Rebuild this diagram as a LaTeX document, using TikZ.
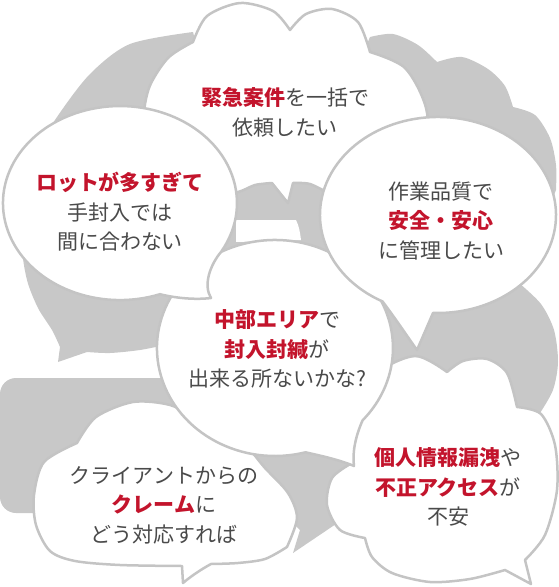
\documentclass[tikz,border=0pt]{standalone}
\usepackage{fontspec}
\newfontfamily\jp{Noto Sans CJK JP}
\definecolor{bggrey}{HTML}{C8C8C8}
\definecolor{bubline}{HTML}{C4C4C4}
\definecolor{textgrey}{HTML}{4A4A4A}
\definecolor{hotred}{HTML}{C3142C}
\newcommand\redb[1]{{\bfseries\color{hotred}#1}}
\tikzset{
  wb/.style={fill=white, draw=bubline, line width=2.5pt, line join=round},
  gb/.style={fill=bggrey},
  txt/.style={font=\jp\fontsize{21}{29.5}\selectfont, text=textgrey, align=center, inner sep=0pt}
}
\begin{document}
\begin{tikzpicture}[x=1pt,y=-1pt]
\useasboundingbox (0,0) rectangle (559,587);
% grey background
\path[gb] (58,362) -- (60,347)
 -- plot[smooth] coordinates {(60,347) (52,330) (38,308) (27,280) (22,245) (26,195) (38,150) (57,117) (90,74) (130,44) (193,32)}
 -- (200,60) -- (360,60) -- (370,37)
 -- plot[smooth] coordinates {(370,37) (393,34) (418,45) (437,62)}
 -- plot[smooth] coordinates {(437,62) (462,57) (488,69) (505,86) (513,107)}
 -- plot[smooth] coordinates {(513,107) (535,115) (550,138) (556,165) (556,190)}
 -- (540,230) -- (519,283)
 -- plot[smooth] coordinates {(519,283) (541,304) (554,330) (558,362) (553,390) (540,413)}
 -- (450,430) -- (360,470) -- (340,500) -- (336,524) -- (293,553) -- (300,530) -- (270,500) -- (250,440) -- (165,345)
 -- plot[smooth] coordinates {(165,345) (140,350) (110,353) (87,352)} -- cycle;
\path[gb, rounded corners=16] (0,378) rectangle (200,513);
\path[fill=white] (236,220) -- (296,220) .. controls (299,226) and (300,232) .. (301,240) -- (236,242) -- cycle;
% top cloud
\path[wb] (165,200)
 -- plot[smooth] coordinates {(165,200) (149,165) (143,125) (149,88) (168,58) (193,42)}
 -- plot[smooth] coordinates {(193,42) (207,16) (240,3) (273,11) (290,30)}
 -- plot[smooth] coordinates {(290,30) (306,14) (332,9) (358,22) (370,52)}
 -- plot[smooth] coordinates {(370,52) (405,68) (426,108) (428,160) (405,195)}
 -- (330,194) -- plot[smooth] coordinates {(330,194) (310,184) (293,183)} -- (288,203) -- (272,183)
 -- plot[smooth] coordinates {(272,183) (255,185) (238,192) (200,200)} -- cycle;
% client cloud
\path[wb] (77,443)
 -- plot[smooth] coordinates {(77,443) (96,417) (133,402) (170,405) (200,420)}
 -- plot[smooth] coordinates {(200,420) (240,440) (265,468) (288,493) (297,518) (287,547)}
 -- plot[smooth] coordinates {(287,547) (265,559) (238,563) (211,564)}
 .. controls (200,570) and (190,577) .. (183,583) -- (182,566)
 -- plot[smooth] coordinates {(182,566) (120,565) (75,561) (50,551) (36,525) (34,495) (44,462) (77,443)} -- cycle;
% privacy cloud
\path[wb] (352,463)
 -- plot[smooth] coordinates {(352,463) (350,420) (375,375) (415,356) (447,372)}
 -- plot[smooth] coordinates {(447,372) (463,361) (487,359) (507,373) (517,407)}
 -- plot[smooth] coordinates {(517,407) (541,414) (555,445) (557,490) (545,535) (525,560)}
 -- (531,584) -- (505,570)
 -- plot[smooth] coordinates {(505,570) (470,579) (430,582) (392,573) (372,557) (365,538)}
 -- plot[smooth] coordinates {(365,538) (340,530) (327,505) (332,478) (352,463)} -- cycle;
% chubu bubble
\path[wb] (305.5,452.3) arc[start angle=75, end angle=402, x radius=118, y radius=108]
 .. controls (356,435) and (352,452) .. (354,466)
 .. controls (340,460) and (322,456) .. (305.5,452.3) -- cycle;
% lot bubble
\path[wb] (160.0,294.2) arc[start angle=70, end angle=390, x radius=117, y radius=97]
 .. controls (210,265) and (203,285) .. (211,298)
 .. controls (195,300) and (175,298) .. (160.0,294.2) -- cycle;
% quality bubble
\path[wb] (382.6,301.5) arc[start angle=118, end angle=452.4, x radius=118, y radius=98]
 -- (417,350) .. controls (405,333) and (395,318) .. (382.6,301.5) -- cycle;
% texts
\node[txt] (t1) at (285,112.5) {\redb{緊急案件}を一括で\\依頼したい};
\node[txt] (t2) at (120,212) {\redb{ロットが多すぎて}\\手封入では\\間に合わない};
\node[txt] (t3) at (441,221) {作業品質で\\\redb{安全・安心}\\に管理したい};
\node[txt] (t4) at (277,349) {\redb{中部エリア}で\\\redb{封入封緘}が\\出来る所ないかな?};
\node[txt] (t5) at (164,505) {クライアントからの\\\redb{クレーム}に\\どう対応すれば};
\node[txt] (t6) at (448,487) {\redb{個人情報漏洩}や\\\redb{不正アクセス}が\\不安};
\end{tikzpicture}
\end{document}
